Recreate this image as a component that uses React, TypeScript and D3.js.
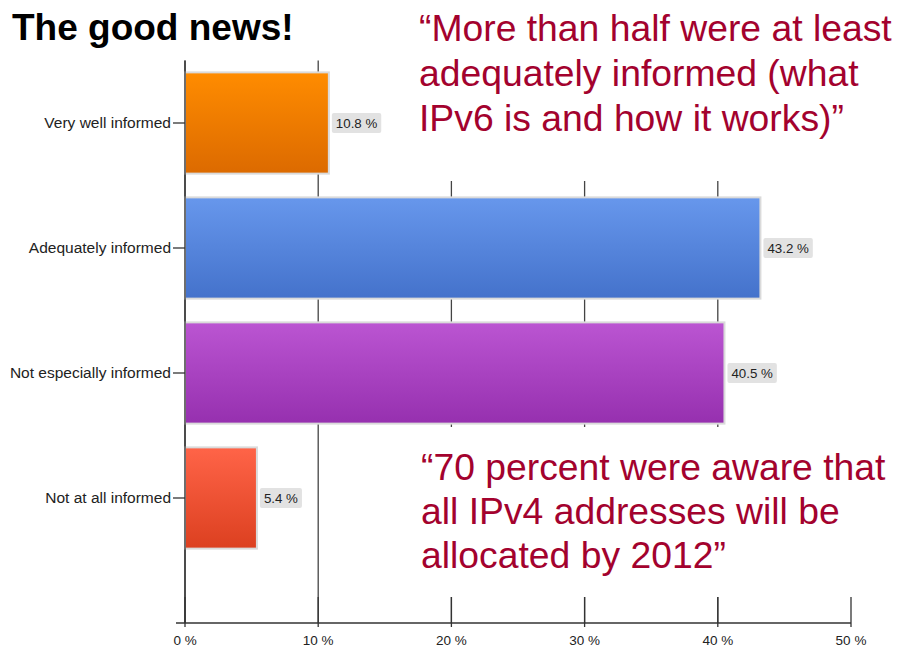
import { useEffect, useRef } from "react";
import * as d3 from "d3";

const categories = ["Very well informed", "Adequately informed", "Not especially informed", "Not at all informed"];
const values = [10.8, 43.2, 40.5, 5.4];
const xTicks = [0, 10, 20, 30, 40, 50];
const topColors = ["#ff8c00", "#6797ec", "#bb55d2", "#ff6448"];
const bottomColors = ["#dc6a00", "#4472cb", "#9630af", "#dc4020"];
const quoteTop = ["\u201cMore than half were at least", "adequately informed (what", "IPv6 is and how it works)\u201d"];
const quoteBottom = ["\u201c70 percent were aware that", "all IPv4 addresses will be", "allocated by 2012\u201d"];

export default function App() {
  const ref = useRef<SVGSVGElement>(null);

  useEffect(() => {
    document.body.style.margin = "0";
    if (!ref.current) return;
    const svg = d3.select(ref.current);
    svg.selectAll("*").remove();

    const width = 902;
    const height = 648;
    const top = 60.5;
    const axisY = 623;
    const font = "Liberation Sans, Arial, sans-serif";
    const x = d3.scaleLinear().domain([0, 50]).range([185, 851]);
    const y = d3.scaleBand<string>().domain(categories).range([top, top + 500]).paddingInner(0.19).paddingOuter(0.095);

    svg.attr("width", width).attr("height", height);
    const defs = svg.append("defs");
    categories.forEach((c, i) => {
      const g = defs.append("linearGradient").attr("id", `grad${i}`).attr("x1", 0).attr("y1", 0).attr("x2", 0).attr("y2", 1);
      g.append("stop").attr("offset", "0%").attr("stop-color", topColors[i]);
      g.append("stop").attr("offset", "100%").attr("stop-color", bottomColors[i]);
    });

    // gridlines (behind bars)
    svg.append("g")
      .selectAll("line")
      .data(xTicks.filter((t) => t < 50))
      .join("line")
      .attr("x1", (d) => x(d)).attr("x2", (d) => x(d))
      .attr("y1", top).attr("y2", axisY)
      .attr("stroke", (d) => (d === 0 ? "#333" : "#444"))
      .attr("stroke-width", 1.3);

    // bars
    svg.append("g")
      .selectAll("rect")
      .data(values)
      .join("rect")
      .attr("x", x(0))
      .attr("y", (_, i) => y(categories[i])!)
      .attr("width", (d) => x(d) - x(0))
      .attr("height", y.bandwidth())
      .attr("fill", (_, i) => `url(#grad${i})`)
      .attr("stroke", "#dadada")
      .attr("stroke-width", 2);

    // value labels
    const lab = svg.append("g").selectAll("g").data(values).join("g")
      .attr("transform", (d, i) => `translate(${x(d) + 3},${y(categories[i])! + y.bandwidth() / 2})`);
    lab.append("rect").attr("fill", "#e2e2e2").attr("rx", 2);
    lab.append("text")
      .attr("x", 4)
      .attr("dy", "0.35em")
      .attr("font-family", font)
      .attr("font-size", 13.3)
      .attr("fill", "#222")
      .text((d) => `${d.toFixed(1)} %`);
    lab.each(function () {
      const t = d3.select(this).select<SVGTextElement>("text").node()!;
      const w = t.getComputedTextLength();
      d3.select(this).select("rect").attr("x", 0).attr("y", -10).attr("width", w + 8).attr("height", 20);
    });

    // white boxes behind quotes
    svg.append("rect").attr("x", 405).attr("y", 0).attr("width", 497).attr("height", 181).attr("fill", "#fff");
    svg.append("rect").attr("x", 410).attr("y", 427).attr("width", 492).attr("height", 170).attr("fill", "#fff");

    // x axis
    svg.append("line").attr("x1", 176).attr("x2", x(50)).attr("y1", axisY).attr("y2", axisY).attr("stroke", "#333").attr("stroke-width", 1.3);
    const xt = svg.append("g").selectAll("g").data(xTicks).join("g").attr("transform", (d) => `translate(${x(d)},0)`);
    xt.append("line").attr("y1", axisY - 26).attr("y2", axisY + 4).attr("stroke", "#333").attr("stroke-width", 1.3);
    xt.append("text")
      .attr("y", 645)
      .attr("text-anchor", "middle")
      .attr("font-family", font)
      .attr("font-size", 13.5)
      .attr("fill", "#222")
      .text((d) => `${d} %`);

    // y axis
    svg.append("line").attr("x1", x(0)).attr("x2", x(0)).attr("y1", top).attr("y2", axisY).attr("stroke", "#333").attr("stroke-width", 1.3);
    const yt = svg.append("g").selectAll("g").data(categories).join("g")
      .attr("transform", (d) => `translate(0,${y(d)! + y.bandwidth() / 2})`);
    yt.append("line").attr("x1", 173).attr("x2", x(0)).attr("stroke", "#333").attr("stroke-width", 1.3);
    yt.append("text")
      .attr("x", 171)
      .attr("dy", "0.35em")
      .attr("text-anchor", "end")
      .attr("font-family", font)
      .attr("font-size", 15.5)
      .attr("fill", "#222")
      .text((d) => d);

    // title
    svg.append("text")
      .attr("x", 12).attr("y", 40)
      .attr("font-family", font)
      .attr("font-weight", "bold")
      .attr("font-size", 37)
      .attr("fill", "#000")
      .text("The good news!");

    // quotes
    const quote = (lines: string[], x0: number, y0: number, lh: number) => {
      svg.append("g").selectAll("text").data(lines).join("text")
        .attr("x", x0)
        .attr("y", (_, i) => y0 + i * lh)
        .attr("font-family", font)
        .attr("font-size", 37.3)
        .attr("fill", "#a3022e")
        .text((d) => d);
    };
    quote(quoteTop, 419, 41, 45);
    quote(quoteBottom, 421, 480, 44);
  }, []);

  return <svg ref={ref} style={{ display: "block" }} />;
}
